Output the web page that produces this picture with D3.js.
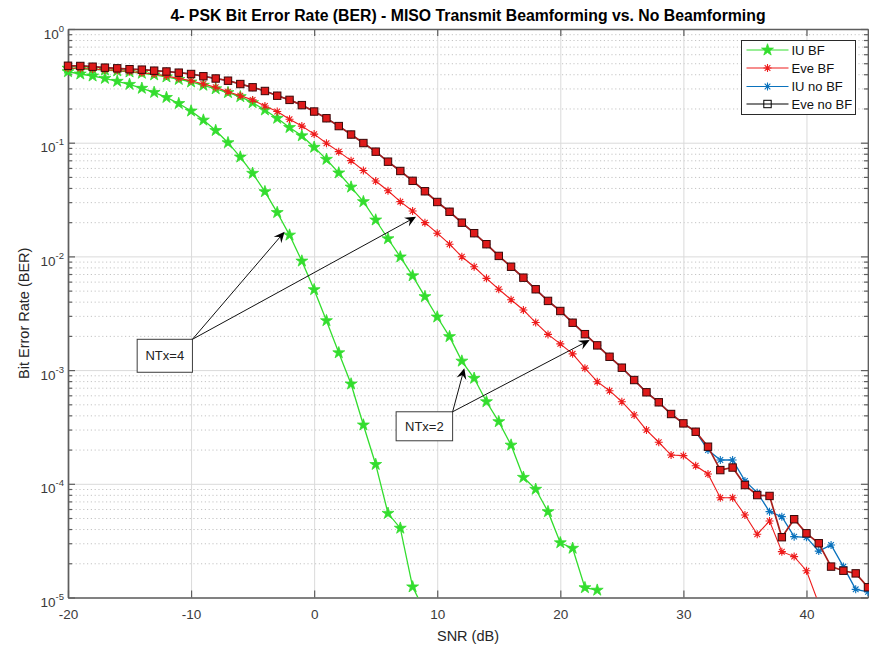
<!DOCTYPE html>
<html>
<head>
<meta charset="utf-8">
<script src="https://cdn.jsdelivr.net/npm/d3@7"></script>
<style>
  body { margin: 0; background: #fff; }
  text { font-family: "Liberation Sans", Arial, sans-serif; }
</style>
</head>
<body>
<svg id="chart"></svg>
<script>
// Declare constants
const FRAME_WIDTH = 869;
const FRAME_HEIGHT = 646;
const MARGINS = {left: 68, right: 1, top: 29, bottom: 48.5};

const VIS_WIDTH = FRAME_WIDTH - MARGINS.left - MARGINS.right;
const VIS_HEIGHT = FRAME_HEIGHT - MARGINS.top - MARGINS.bottom;

// SNR axis values (dB)
const snr = [-20, -19, -18, -17, -16, -15, -14, -13, -12, -11, -10, -9, -8, -7, -6, -5, -4, -3, -2, -1,
  0, 1, 2, 3, 4, 5, 6, 7, 8, 9, 10, 11, 12, 13, 14, 15, 16, 17, 18, 19, 20, 21, 22, 23, 24, 25, 26,
  27, 28, 29, 30, 31, 32, 33, 34, 35, 36, 37, 38, 39, 40, 41, 42, 43, 44, 45];

// IU with beamforming, NTx = 4 (from -20 dB)
const iuBF4 = [0.421, 0.402, 0.386, 0.368, 0.347, 0.326, 0.301, 0.277, 0.25, 0.221, 0.19, 0.158,
  0.128, 0.1, 0.0748, 0.0538, 0.0371, 0.0243, 0.0154, 0.0091, 0.0051, 0.00272, 0.00142, 0.000755,
  0.000329, 0.000148, 5.5e-5, 4.07e-5, 1.24e-5, 7.5e-6];

// IU with beamforming, NTx = 2
const iuBF2 = [0.452, 0.447, 0.442, 0.436, 0.428, 0.419, 0.408, 0.395, 0.379, 0.36, 0.342, 0.32,
  0.298, 0.276, 0.254, 0.225, 0.194, 0.164, 0.136, 0.115, 0.0912, 0.0714, 0.0542, 0.0407, 0.0303,
  0.0209, 0.0143, 0.00989, 0.00675, 0.00443, 0.00293, 0.00197, 0.0012, 0.000847, 0.000527,
  0.000352, 0.000219, 0.000114, 8.95e-5, 5.69e-5, 3.03e-5, 2.71e-5, 1.22e-5, 1.16e-5];

// Eve with beamforming
const eveBF = [0.454, 0.45, 0.445, 0.439, 0.432, 0.423, 0.413, 0.402, 0.386, 0.368, 0.351, 0.328,
  0.307, 0.281, 0.259, 0.238, 0.21, 0.188, 0.161, 0.14, 0.119, 0.0989, 0.0834, 0.0695, 0.057,
  0.046, 0.0378, 0.0303, 0.0251, 0.0198, 0.016, 0.0128, 0.00993, 0.00811, 0.00641, 0.00514,
  0.00416, 0.00338, 0.00262, 0.00206, 0.0017, 0.00139, 0.00104, 0.000791, 0.000659, 0.000527,
  0.000403, 0.000297, 0.000232, 0.000179, 0.000177, 0.000144, 0.000122, 7.55e-5, 7.55e-5,
  5.32e-5, 3.6e-5, 4.71e-5, 2.53e-5, 2.29e-5, 1.72e-5, 8.8e-6];

// IU without beamforming
const iuNoBF = [0.475, 0.473, 0.466, 0.457, 0.451, 0.443, 0.439, 0.43, 0.423, 0.413, 0.402, 0.384,
  0.367, 0.351, 0.328, 0.307, 0.285, 0.259, 0.238, 0.214, 0.188, 0.164, 0.14, 0.118, 0.0993,
  0.0834, 0.0681, 0.0564, 0.0462, 0.0374, 0.0301, 0.0247, 0.0198, 0.016, 0.0128, 0.0101, 0.00811,
  0.0065, 0.00514, 0.00406, 0.00331, 0.00261, 0.00207, 0.00165, 0.00131, 0.00105, 0.000818,
  0.000638, 0.000521, 0.000411, 0.00034, 0.000287, 0.000198, 0.000162, 0.000162, 0.000106,
  8.36e-5, 5.69e-5, 5.14e-5, 3.43e-5, 3.38e-5, 2.56e-5, 2.9e-5, 1.87e-5, 1.18e-5, 1.12e-5];

// Eve without beamforming
const eveNoBF = [0.475, 0.473, 0.466, 0.457, 0.451, 0.443, 0.439, 0.43, 0.423, 0.413, 0.402, 0.384,
  0.367, 0.351, 0.328, 0.307, 0.285, 0.259, 0.238, 0.214, 0.188, 0.164, 0.14, 0.118, 0.0993,
  0.0834, 0.0681, 0.0564, 0.0462, 0.0374, 0.0301, 0.0247, 0.0198, 0.016, 0.0128, 0.0101, 0.00811,
  0.0065, 0.00514, 0.00406, 0.00331, 0.00261, 0.00207, 0.00165, 0.00131, 0.00105, 0.000818,
  0.000638, 0.000521, 0.000411, 0.00034, 0.000287, 0.000212, 0.000132, 0.000139, 9.75e-5,
  7.96e-5, 7.82e-5, 3.39e-5, 4.88e-5, 3.67e-5, 3.0e-5, 1.87e-5, 1.72e-5, 1.63e-5, 1.23e-5];

const xTicks = [-20, -10, 0, 10, 20, 30, 40];
const xTickLabels = ["-20", "-10", "0", "10", "20", "30", "40"];
const yDecades = [1e-5, 1e-4, 1e-3, 1e-2, 1e-1, 1];
const yExponents = ["-5", "-4", "-3", "-2", "-1", "0"];

const legendLabels = ["IU BF", "Eve BF", "IU no BF", "Eve no BF"];

// annotation boxes (data coords) and arrow tips
const notes = [
  {label: "NTx=4", x0: -14.38, x1: -9.89, yTop: 0.001866, yBot: 0.000957,
   tips: [[-2.4, 0.0165], [8.28, 0.0223]]},
  {label: "NTx=2", x0: 6.66, x1: 11.25, yTop: 0.00043, yBot: 0.000239,
   tips: [[12.2, 0.00104], [22.39, 0.00184]]}
];

const GREEN = "#33dd2e";
const RED = "#ee1c1c";
const BLUE = "#0a72bd";

const svg = d3.select("#chart")
  .attr("width", FRAME_WIDTH)
  .attr("height", FRAME_HEIGHT);

svg.append("rect").attr("width", FRAME_WIDTH).attr("height", FRAME_HEIGHT).attr("fill", "#fff");

const FRAME = svg.append("g")
  .attr("transform", `translate(${MARGINS.left},${MARGINS.top})`);

const x = d3.scaleLinear().domain([-20, 45]).range([0, VIS_WIDTH]);
const y = d3.scaleLog().domain([1e-5, 1]).range([VIS_HEIGHT, 0]);

const yMinor = y.ticks().filter(v => !yDecades.some(d => Math.abs(v / d - 1) < 1e-6));

svg.append("defs").append("clipPath").attr("id", "plotclip")
  .append("rect").attr("width", VIS_WIDTH).attr("height", VIS_HEIGHT);

// grid: minor horizontal dotted
FRAME.append("g")
  .call(d3.axisLeft(y).tickValues(yMinor).tickSize(-VIS_WIDTH).tickFormat(""))
  .call(g => g.select(".domain").remove())
  .call(g => g.selectAll("line").attr("stroke", "#c4c4c4").attr("stroke-dasharray", "1.2,2.6"));

// grid: major horizontal & vertical
FRAME.append("g")
  .call(d3.axisLeft(y).tickValues(yDecades).tickSize(-VIS_WIDTH).tickFormat(""))
  .call(g => g.select(".domain").remove())
  .call(g => g.selectAll("line").attr("stroke", "#dadada"));

FRAME.append("g")
  .call(d3.axisBottom(x).tickValues(xTicks).tickSize(VIS_HEIGHT).tickFormat(""))
  .call(g => g.select(".domain").remove())
  .call(g => g.selectAll("line").attr("stroke", "#dadada"));

// axes box and ticks
const AXIS_COLOR = "#5e5e5e";

function styleAxis(g) {
  g.select(".domain").attr("stroke", AXIS_COLOR).attr("stroke-width", 1.4);
  g.selectAll(".tick line").attr("stroke", AXIS_COLOR).attr("stroke-width", 1.2);
}

const yLeft = FRAME.append("g")
  .call(d3.axisLeft(y).tickValues(yDecades).tickSizeInner(-7).tickSizeOuter(0).tickFormat(""))
  .call(styleAxis);
FRAME.append("g")
  .call(d3.axisLeft(y).tickValues(yMinor).tickSizeInner(-4).tickSizeOuter(0).tickFormat(""))
  .call(styleAxis);
FRAME.append("g").attr("transform", `translate(${VIS_WIDTH},0)`)
  .call(d3.axisRight(y).tickValues(yDecades).tickSizeInner(-7).tickSizeOuter(0).tickFormat(""))
  .call(styleAxis);
FRAME.append("g").attr("transform", `translate(${VIS_WIDTH},0)`)
  .call(d3.axisRight(y).tickValues(yMinor).tickSizeInner(-4).tickSizeOuter(0).tickFormat(""))
  .call(styleAxis);
const xBottom = FRAME.append("g").attr("transform", `translate(0,${VIS_HEIGHT})`)
  .call(d3.axisBottom(x).tickValues(xTicks).tickSizeInner(-7).tickSizeOuter(0).tickPadding(12)
    .tickFormat((d, i) => xTickLabels[i]))
  .call(styleAxis);
FRAME.append("g")
  .call(d3.axisTop(x).tickValues(xTicks).tickSizeInner(-7).tickSizeOuter(0).tickFormat(""))
  .call(styleAxis);

xBottom.selectAll(".tick text")
  .attr("font-size", 13.5)
  .attr("fill", "#3a3a3a")
  .attr("font-family", "Liberation Sans, Arial, sans-serif");

// y tick labels as powers of ten
yLeft.selectAll(".tick").each(function(d, i) {
  const t = d3.select(this).append("text")
    .attr("x", -4)
    .attr("y", 9)
    .attr("text-anchor", "end")
    .attr("fill", "#3a3a3a")
    .attr("font-size", 13.5);
  t.append("tspan").text("10");
  t.append("tspan").attr("dy", -7).attr("font-size", 9.5).text(yExponents[i]);
});

// line generator
const line = d3.line()
  .defined(d => d[1] != null)
  .x(d => x(d[0]))
  .y(d => y(d[1]));

const PLOT = FRAME.append("g");

function pairs(vals) {
  return vals.map((v, i) => [snr[i], v]);
}

function drawStar(g, color) {
  g.append("path")
    .attr("d", d3.symbol(d3.symbolStar).size(44))
    .attr("fill", color)
    .attr("stroke", color)
    .attr("stroke-width", 0.8);
}

function drawAsterisk(g, color) {
  const r = 4;
  const k = r * 0.7071;
  g.append("path")
    .attr("d", `M${-r},0H${r}M0,${-r}V${r}M${-k},${-k}L${k},${k}M${-k},${k}L${k},${-k}`)
    .attr("stroke", color)
    .attr("stroke-width", 1.1)
    .attr("fill", "none");
}

function drawSquare(g, fill, stroke) {
  g.append("rect")
    .attr("x", -3.7).attr("y", -3.7)
    .attr("width", 7.4).attr("height", 7.4)
    .attr("fill", fill)
    .attr("stroke", stroke)
    .attr("stroke-width", 1);
}

function plotSeries(vals, color, width, marker) {
  const data = pairs(vals);
  PLOT.append("path")
    .datum(data)
    .attr("clip-path", "url(#plotclip)")
    .attr("d", line)
    .attr("fill", "none")
    .attr("stroke", color)
    .attr("stroke-width", width);
  PLOT.append("g")
    .selectAll("g")
    .data(data.filter(d => d[1] >= 1e-5))
    .join("g")
      .attr("transform", d => `translate(${x(d[0])},${y(d[1])})`)
      .each(function() { marker(d3.select(this)); });
}

plotSeries(iuBF4, GREEN, 1.3, g => drawStar(g, GREEN));
plotSeries(iuBF2, GREEN, 1.3, g => drawStar(g, GREEN));
plotSeries(iuNoBF, BLUE, 1.3, g => drawAsterisk(g, BLUE));
plotSeries(eveBF, RED, 1.1, g => drawAsterisk(g, RED));
plotSeries(eveNoBF, "#a8201c", 1.7, g => drawSquare(g, "#de1a1a", "#3a0808"));

// annotations
const ANNO = FRAME.append("g");
notes.forEach(n => {
  const bx0 = x(n.x0), bx1 = x(n.x1), by0 = y(n.yTop), by1 = y(n.yBot);
  ANNO.append("rect")
    .attr("x", bx0).attr("y", by0)
    .attr("width", bx1 - bx0).attr("height", by1 - by0)
    .attr("fill", "#fff")
    .attr("stroke", "#3c3c3c")
    .attr("stroke-width", 1);
  ANNO.append("text")
    .attr("x", (bx0 + bx1) / 2)
    .attr("y", (by0 + by1) / 2)
    .attr("dy", "0.36em")
    .attr("text-anchor", "middle")
    .attr("font-size", 13)
    .attr("fill", "#222")
    .text(n.label);
  n.tips.forEach(tp => {
    const tx = x(tp[0]), ty = y(tp[1]);
    const ang = Math.atan2(ty - by0, tx - bx1);
    ANNO.append("line")
      .attr("x1", bx1).attr("y1", by0)
      .attr("x2", tx - 6 * Math.cos(ang)).attr("y2", ty - 6 * Math.sin(ang))
      .attr("stroke", "#111")
      .attr("stroke-width", 1);
    const L = 11, W = 5, N = 7;
    const pts = [
      [0, 0], [-L, -W], [-N, 0], [-L, W]
    ].map(p => [tx + p[0] * Math.cos(ang) - p[1] * Math.sin(ang),
                ty + p[0] * Math.sin(ang) + p[1] * Math.cos(ang)]);
    ANNO.append("polygon")
      .attr("points", pts.map(p => p.join(",")).join(" "))
      .attr("fill", "#000");
  });
});

// legend
const LEGEND = svg.append("g").attr("transform", "translate(741.5,40.5)");
LEGEND.append("rect")
  .attr("width", 114).attr("height", 74)
  .attr("fill", "#fff")
  .attr("stroke", "#2a2a2a")
  .attr("stroke-width", 1);

const legendStyles = [
  {color: GREEN, marker: g => drawStar(g, GREEN)},
  {color: RED, marker: g => drawAsterisk(g, RED)},
  {color: BLUE, marker: g => drawAsterisk(g, BLUE)},
  {color: "#000", marker: g => drawSquare(g, "none", "#000")}
];
const legendRows = [9.5, 27.5, 46, 63.5];

legendLabels.forEach((lab, i) => {
  const row = LEGEND.append("g").attr("transform", `translate(0,${legendRows[i]})`);
  row.append("line")
    .attr("x1", 5).attr("x2", 47)
    .attr("stroke", legendStyles[i].color)
    .attr("stroke-width", 1.2);
  legendStyles[i].marker(row.append("g").attr("transform", "translate(26,0)"));
  row.append("text")
    .attr("x", 50).attr("dy", "0.36em")
    .attr("font-size", 13)
    .attr("fill", "#111")
    .text(lab);
});

// title and axis labels
svg.append("text")
  .attr("x", MARGINS.left + VIS_WIDTH / 2)
  .attr("y", 21)
  .attr("text-anchor", "middle")
  .attr("font-size", 15.8)
  .attr("font-weight", "bold")
  .attr("fill", "#000")
  .text("4- PSK Bit Error Rate (BER) - MISO Transmit Beamforming vs. No Beamforming");

svg.append("text")
  .attr("x", MARGINS.left + VIS_WIDTH / 2)
  .attr("y", 641)
  .attr("text-anchor", "middle")
  .attr("font-size", 14.5)
  .attr("fill", "#262626")
  .text("SNR (dB)");

svg.append("text")
  .attr("transform", `translate(28.5,${MARGINS.top + VIS_HEIGHT / 2}) rotate(-90)`)
  .attr("text-anchor", "middle")
  .attr("font-size", 14.5)
  .attr("fill", "#262626")
  .text("Bit Error Rate (BER)");
</script>
</body>
</html>
